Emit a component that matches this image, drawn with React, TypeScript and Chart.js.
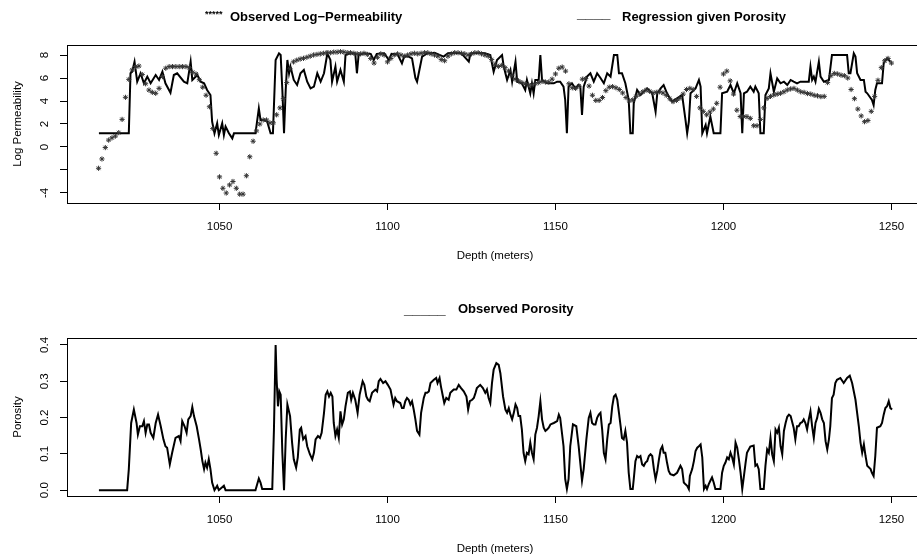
import React, { useEffect, useRef } from "react";
import { Chart, registerables } from "chart.js";
Chart.register(...registerables);

const FONT = '"Liberation Sans", Arial, Helvetica, sans-serif';
const TICK_SIZE = 11.5;
const LEGEND_SIZE = 13;

// ---------- axes ----------
const depthMin = 1004.6;
const depthMax = 1259.4;
const depthTicks = [1050, 1100, 1150, 1200, 1250];
const permTicks = [-4, -2, 0, 2, 4, 6, 8];
const permTickLabels = ["-4", "", "0", "2", "4", "6", "8"];
const porTicks = [0, 0.1, 0.2, 0.3, 0.4];
const porTickLabels = ["0.0", "0.1", "0.2", "0.3", "0.4"];

// ---------- observed log-permeability (one star per metre, 1014..1250 m) ----------
const obsStartDepth = 1014;
const obsLogPerm = [
  -1.85, -1.04, -0.05, 0.6, 0.8, 0.95,
  1.25, 2.4, 4.32, 5.88, 6.7, 6.99, 7.04, 6.3, 5.5, 4.95,
  4.75, 4.67, 5.1, 6.12, 6.85, 6.99, 6.99, 6.99, 6.99, 6.99,
  6.99, 6.9, 6.5, 6.35, 5.85, 5.2, 4.5, 3.5, 1.6, -0.55,
  -2.6, -3.59, -4.0, -3.3, -3.0, -3.59, -4.1, -4.1, -2.5, -0.85,
  0.5, 1.4, 2.0, 2.35, 2.35, 2.1, 2.1, 2.8, 3.4, 4.2,
  5.6, 6.8, 7.4, 7.55, 7.65, 7.71, 7.8, 7.9, 8.0, 8.05,
  8.1, 8.15, 8.2, 8.2, 8.25, 8.25, 8.29, 8.25, 8.2, 8.2,
  8.15, 8.1, 8.1, 8.15, 8.05, 7.7, 7.3, 7.8, 8.1, 8.0,
  7.4, 7.7, 8.0, 8.1, 8.0, 7.9, 8.0, 8.1, 8.15, 8.1,
  8.15, 8.2, 8.2, 8.1, 8.0, 7.9, 7.6, 7.5, 7.9, 8.1,
  8.2, 8.2, 8.15, 8.1, 8.0, 8.1, 8.2, 8.2, 8.1, 8.0,
  7.9, 7.6, 7.2, 7.0, 7.1, 6.9, 6.6, 6.2, 5.9, 5.75,
  5.6, 5.5, 5.4, 5.4, 5.5, 5.6, 5.7, 5.65, 5.65, 5.9,
  6.35, 6.85, 6.95, 6.6, 5.5, 5.15, 5.1, 5.3, 5.9, 5.95,
  5.3, 4.5, 4.05, 4.05, 4.3, 4.9, 5.2, 5.25, 5.15, 5.0,
  4.7, 4.3, 4.0, 4.1, 4.4, 4.6, 4.8, 4.95, 4.85, 4.7,
  4.75, 4.8, 4.7, 4.5, 4.2, 3.95, 4.05, 4.25, 4.6, 5.0,
  5.1, 5.0, 4.4, 3.4, 3.1, 2.8, 3.05, 3.3, 3.8, 5.2,
  6.35, 6.6, 5.75, 4.6, 3.2, 2.65, 2.65, 2.64, 2.49, 1.85,
  1.85, 2.4, 3.4, 4.23, 4.4, 4.52, 4.6, 4.67, 4.8, 4.96,
  5.05, 5.1, 4.95, 4.8, 4.75, 4.65, 4.6, 4.5, 4.45, 4.38,
  4.4, 5.6, 6.2, 6.4, 6.35, 6.25, 6.2, 6.0, 5.0, 4.2,
  3.3, 2.7, 2.2, 2.3, 3.1, 4.4, 5.8, 6.9, 7.5, 7.7,
  7.3,
];

// ---------- regression given porosity ----------
const regDepth = [
  1014.1, 1023.0, 1023.5, 1024.0, 1024.7, 1025.5, 1026.5, 1027.5, 1028.5, 1029.5,
  1031.0, 1032.0, 1033.0, 1033.9, 1035.4, 1036.4, 1037.4, 1039.4, 1040.4, 1041.4,
  1041.9, 1043.4, 1044.4, 1045.4, 1046.3, 1047.3, 1047.8, 1048.5, 1049.3, 1049.8,
  1050.8, 1051.3, 1051.8, 1052.8, 1053.8, 1054.3, 1060.7, 1061.7, 1062.2, 1063.2,
  1064.2, 1065.2, 1065.9, 1066.7, 1067.7, 1068.2, 1068.7, 1069.2, 1069.7, 1070.2,
  1070.7, 1071.1, 1072.1, 1073.1, 1074.1, 1075.1, 1076.1, 1077.1, 1078.1, 1079.1,
  1080.1, 1081.1, 1082.1, 1083.0, 1083.5, 1084.5, 1085.0, 1086.0, 1087.0, 1087.5,
  1089.0, 1090.4, 1090.9, 1091.4, 1093.0, 1095.0, 1095.9, 1096.8, 1099.0, 1100.4,
  1101.2, 1103.0, 1104.3, 1105.0, 1106.3, 1107.3, 1108.3, 1108.8, 1109.3, 1110.3,
  1111.8, 1114.0, 1116.7, 1118.0, 1120.0, 1122.0, 1124.2, 1124.7, 1127.0, 1129.0,
  1130.6, 1131.6, 1132.6, 1134.1, 1134.6, 1135.6, 1136.6, 1137.1, 1138.1, 1138.6,
  1140.0, 1141.0, 1141.5, 1142.5, 1143.0, 1143.5, 1144.0, 1145.0, 1145.5, 1146.0,
  1147.5, 1149.5, 1150.5, 1151.4, 1152.4, 1152.9, 1153.4, 1153.9, 1154.9, 1155.9,
  1156.9, 1157.4, 1157.9, 1158.4, 1159.4, 1160.4, 1161.4, 1162.4, 1163.4, 1164.4,
  1165.4, 1166.4, 1167.4, 1168.4, 1168.9, 1169.8, 1170.8, 1171.8, 1172.3, 1173.0,
  1173.3, 1174.3, 1175.3, 1176.3, 1177.3, 1178.8, 1179.8, 1180.3, 1181.3, 1182.2,
  1183.2, 1184.7, 1186.2, 1187.7, 1188.7, 1189.2, 1189.7, 1190.2, 1191.7, 1192.7,
  1193.2, 1193.7, 1194.7, 1195.1, 1196.1, 1197.1, 1199.1, 1199.6, 1201.1, 1202.1,
  1203.1, 1204.1, 1205.1, 1205.6, 1206.1, 1207.0, 1208.0, 1209.0, 1209.5, 1210.5,
  1211.0, 1212.0, 1212.5, 1213.5, 1214.0, 1215.0, 1216.0, 1217.0, 1218.0, 1219.0,
  1220.0, 1220.9, 1221.9, 1222.9, 1225.4, 1225.9, 1226.4, 1226.9, 1227.4, 1228.4,
  1228.9, 1229.9, 1231.4, 1232.3, 1232.8, 1236.8, 1237.3, 1237.8, 1238.8, 1239.3,
  1239.8, 1240.8, 1241.8, 1242.3, 1242.8, 1244.2, 1244.7, 1245.2, 1245.7, 1247.2,
  1247.7, 1248.7, 1249.7,
];
const regLogPerm = [
  1.19, 1.19, 6.41, 6.55, 7.42, 5.68, 6.41, 5.54, 6.12, 5.54,
  6.26, 5.83, 6.55, 5.54, 4.72, 6.26, 6.41, 5.68, 5.54, 7.42,
  5.83, 6.26, 5.68, 5.54, 4.96, 4.52, 2.2, 1.19, 2.06, 1.04,
  2.06, 1.04, 1.77, 1.19, 0.75, 1.19, 1.19, 3.36, 2.35, 2.35,
  2.2, 1.19, 1.19, 7.57, 8.14, 8.0, 4.96, 1.19, 4.96, 7.57,
  6.41, 6.99, 5.83, 5.39, 6.41, 6.7, 5.68, 5.1, 5.25, 6.41,
  5.68, 6.41, 8.14, 7.57, 5.68, 6.99, 5.68, 6.7, 5.68, 8.0,
  8.14, 8.14, 6.41, 8.0, 8.15, 8.1, 7.57, 8.1, 8.15, 7.57,
  8.1, 8.05, 7.28, 7.9, 7.86, 7.7, 6.0, 5.68, 6.41, 7.86,
  8.14, 8.2, 7.86, 8.15, 8.2, 8.15, 7.42, 8.14, 8.2, 8.15,
  8.0, 6.55, 7.57, 8.0, 6.99, 5.83, 6.7, 5.68, 7.42, 5.68,
  5.54, 4.96, 5.83, 4.67, 5.54, 4.67, 5.83, 5.83, 8.0, 5.83,
  5.54, 5.54, 5.68, 5.68, 5.25, 4.09, 1.19, 5.25, 5.54, 5.1,
  5.39, 5.25, 2.78, 5.25, 6.12, 6.41, 5.68, 6.41, 6.0, 5.54,
  6.41, 6.12, 8.0, 8.0, 6.41, 6.41, 5.54, 4.09, 1.19, 1.19,
  3.8, 4.96, 4.52, 4.81, 5.1, 4.67, 3.07, 4.67, 5.1, 5.39,
  4.67, 3.94, 4.23, 4.52, 2.35, 1.19, 2.2, 4.67, 5.1, 5.83,
  5.25, 1.19, 1.91, 1.19, 2.64, 1.19, 1.19, 4.67, 4.81, 5.39,
  4.67, 5.54, 4.67, 1.19, 4.67, 4.81, 5.25, 4.81, 5.25, 4.67,
  1.19, 1.19, 4.52, 5.1, 6.41, 4.81, 5.97, 5.54, 5.68, 5.39,
  5.83, 5.68, 5.54, 5.68, 5.68, 6.99, 5.83, 6.12, 5.68, 7.42,
  6.12, 5.68, 5.83, 8.0, 8.0, 8.0, 6.41, 6.41, 8.14, 7.86,
  6.41, 5.83, 5.83, 4.81, 4.67, 4.09, 3.65, 4.96, 5.54, 5.54,
  7.28, 7.71, 7.42,
];

// ---------- observed porosity ----------
const porDepth = [
  1014.1, 1022.5, 1023.0, 1023.7, 1024.5, 1025.3, 1025.7, 1026.3, 1027.0, 1027.5,
  1028.0, 1028.5, 1029.0, 1029.5, 1030.3, 1031.0, 1031.7, 1032.5, 1033.3, 1033.9,
  1034.4, 1035.2, 1035.9, 1036.9, 1037.9, 1038.4, 1038.9, 1039.6, 1040.2, 1040.7,
  1041.4, 1041.9, 1042.4, 1043.2, 1043.9, 1044.4, 1044.9, 1045.4, 1045.8, 1046.3,
  1046.8, 1047.3, 1047.8, 1048.5, 1049.3, 1049.8, 1051.3, 1051.8, 1060.7, 1061.7,
  1062.2, 1062.7, 1065.7, 1066.2, 1066.7, 1067.0, 1067.4, 1067.8, 1068.2, 1068.7,
  1069.2, 1069.7, 1070.2, 1071.0, 1071.6, 1072.1, 1072.8, 1073.3, 1073.9, 1074.3,
  1074.9, 1075.6, 1076.1, 1076.9, 1077.6, 1078.1, 1078.6, 1079.3, 1079.9, 1080.4,
  1081.1, 1081.6, 1082.1, 1082.6, 1083.1, 1083.6, 1084.0, 1084.5, 1085.0, 1085.5,
  1086.0, 1086.5, 1087.0, 1087.5, 1088.2, 1088.8, 1089.2, 1089.7, 1090.4, 1091.1,
  1091.7, 1092.6, 1093.1, 1093.7, 1094.2, 1094.7, 1095.4, 1096.4, 1096.9, 1097.4,
  1097.9, 1098.7, 1099.4, 1100.1, 1100.9, 1101.4, 1101.8, 1102.3, 1102.8, 1103.8,
  1104.3, 1104.8, 1105.3, 1105.8, 1106.3, 1106.8, 1107.3, 1107.8, 1108.3, 1108.8,
  1109.5, 1110.0, 1110.8, 1111.3, 1111.8, 1112.3, 1112.8, 1113.8, 1114.5, 1114.9,
  1115.5, 1115.9, 1116.5, 1116.9, 1117.5, 1118.2, 1118.7, 1119.7, 1120.5, 1121.2,
  1121.9, 1122.7, 1123.5, 1124.0, 1124.5, 1125.2, 1125.7, 1126.2, 1126.6, 1127.6,
  1128.4, 1129.1, 1129.6, 1130.1, 1130.6, 1131.1, 1131.6, 1132.4, 1133.1, 1133.6,
  1134.4, 1135.1, 1135.6, 1136.1, 1136.6, 1137.1, 1137.6, 1138.1, 1138.6, 1139.0,
  1139.5, 1140.0, 1140.5, 1141.0, 1141.5, 1142.0, 1142.5, 1143.0, 1143.5, 1144.0,
  1144.5, 1145.0, 1145.5, 1146.0, 1146.5, 1147.0, 1147.5, 1148.0, 1148.5, 1149.5,
  1150.5, 1151.0, 1151.4, 1152.4, 1152.9, 1153.4, 1153.9, 1154.4, 1155.2, 1156.2,
  1156.9, 1157.9, 1158.4, 1159.2, 1159.9, 1160.4, 1160.9, 1161.4, 1161.9, 1162.4,
  1162.9, 1163.4, 1163.9, 1164.4, 1164.9, 1165.4, 1165.9, 1166.4, 1166.9, 1167.4,
  1167.9, 1168.4, 1168.9, 1169.4, 1169.8, 1170.3, 1170.8, 1171.3, 1171.8, 1172.3,
  1173.0, 1173.3, 1173.8, 1174.3, 1174.8, 1175.3, 1175.8, 1176.3, 1176.8, 1177.3,
  1177.8, 1178.3, 1178.8, 1179.3, 1179.8, 1180.3, 1180.8, 1181.3, 1181.8, 1182.2,
  1182.7, 1183.2, 1183.7, 1184.2, 1185.2, 1186.2, 1187.2, 1187.7, 1188.2, 1188.7,
  1189.2, 1189.7, 1190.0, 1190.7, 1191.2, 1191.7, 1192.2, 1192.7, 1193.2, 1193.7,
  1194.2, 1194.7, 1195.1, 1195.6, 1196.1, 1196.6, 1197.1, 1197.6, 1199.1, 1199.6,
  1200.1, 1200.6, 1201.1, 1201.6, 1202.1, 1202.6, 1203.1, 1203.6, 1204.1, 1204.6,
  1205.1, 1205.6, 1206.1, 1206.6, 1207.0, 1208.0, 1209.0, 1209.5, 1210.0, 1210.5,
  1211.0, 1212.0, 1212.5, 1213.0, 1213.5, 1214.0, 1214.5, 1215.0, 1215.5, 1216.0,
  1216.5, 1217.0, 1217.5, 1218.0, 1218.5, 1219.0, 1219.5, 1220.0, 1220.4, 1220.9,
  1221.4, 1221.9, 1222.4, 1222.9, 1223.4, 1223.9, 1224.4, 1224.9, 1225.4, 1225.9,
  1226.4, 1226.9, 1227.4, 1227.9, 1228.4, 1228.9, 1229.4, 1229.9, 1230.4, 1230.9,
  1231.4, 1231.8, 1232.3, 1232.8, 1233.3, 1233.8, 1234.8, 1235.8, 1236.8, 1237.6,
  1238.3, 1239.3, 1240.3, 1240.8, 1241.3, 1241.8, 1242.3, 1242.8, 1243.8, 1244.2,
  1244.7, 1245.2, 1245.7, 1246.7, 1247.2, 1247.7, 1248.2, 1248.7, 1249.2, 1249.7,
  1250.2,
];
const porosity = [
  0.0, 0.0, 0.058, 0.185, 0.222, 0.185, 0.153, 0.176, 0.176, 0.19,
  0.158, 0.181, 0.181, 0.158, 0.144, 0.185, 0.208, 0.176, 0.14, 0.121,
  0.117, 0.071, 0.103, 0.144, 0.149, 0.135, 0.19, 0.176, 0.158, 0.195,
  0.204, 0.229, 0.204, 0.176, 0.14, 0.112, 0.08, 0.058, 0.076, 0.062,
  0.085, 0.058, 0.021, 0.0, 0.012, 0.0, 0.012, 0.0, 0.0, 0.032,
  0.021, 0.003, 0.003, 0.167, 0.4, 0.304, 0.231, 0.272, 0.263, 0.103,
  0.0, 0.14, 0.236, 0.204, 0.131, 0.085, 0.062, 0.09, 0.167, 0.172,
  0.14, 0.149, 0.121, 0.099, 0.085, 0.103, 0.14, 0.149, 0.144, 0.158,
  0.213, 0.263, 0.272, 0.258, 0.268, 0.258, 0.185, 0.149, 0.167, 0.144,
  0.217, 0.181, 0.195, 0.231, 0.268, 0.272, 0.249, 0.268, 0.249, 0.213,
  0.263, 0.3, 0.29, 0.258, 0.249, 0.245, 0.268, 0.277, 0.272, 0.3,
  0.306, 0.295, 0.3, 0.29, 0.277, 0.254, 0.236, 0.254, 0.245, 0.24,
  0.226, 0.226, 0.245, 0.254, 0.249, 0.236, 0.245, 0.222, 0.195, 0.163,
  0.153, 0.213, 0.254, 0.268, 0.268, 0.272, 0.295, 0.304, 0.309, 0.295,
  0.309, 0.286, 0.258, 0.24, 0.254, 0.249, 0.268, 0.277, 0.277, 0.29,
  0.281, 0.272, 0.258, 0.222, 0.245, 0.249, 0.254, 0.268, 0.281, 0.29,
  0.281, 0.268, 0.277, 0.254, 0.24, 0.295, 0.332, 0.35, 0.345, 0.322,
  0.258, 0.222, 0.213, 0.226, 0.208, 0.195, 0.213, 0.236, 0.226, 0.204,
  0.204, 0.167, 0.103, 0.08, 0.103, 0.099, 0.131, 0.103, 0.085, 0.153,
  0.172, 0.204, 0.245, 0.195, 0.172, 0.163, 0.167, 0.172, 0.181, 0.185,
  0.19, 0.208, 0.199, 0.121, 0.03, 0.003, 0.03, 0.121, 0.181, 0.176,
  0.121, 0.026, 0.058, 0.14, 0.199, 0.213, 0.185, 0.181, 0.181, 0.199,
  0.208, 0.213, 0.167, 0.103, 0.085, 0.14, 0.181, 0.185, 0.231, 0.258,
  0.263, 0.249, 0.213, 0.176, 0.144, 0.14, 0.163, 0.131, 0.048, 0.003,
  0.003, 0.03, 0.08, 0.094, 0.09, 0.094, 0.071, 0.067, 0.076, 0.08,
  0.094, 0.099, 0.094, 0.058, 0.03, 0.053, 0.085, 0.112, 0.121, 0.103,
  0.103, 0.076, 0.053, 0.044, 0.041, 0.048, 0.067, 0.058, 0.021, 0.016,
  0.012, 0.003, 0.039, 0.058, 0.08, 0.108, 0.117, 0.121, 0.126, 0.09,
  0.003, 0.012, 0.003, 0.016, 0.026, 0.035, 0.021, 0.003, 0.003, 0.048,
  0.067, 0.076, 0.09, 0.085, 0.103, 0.09, 0.071, 0.131, 0.117, 0.085,
  0.048, 0.003, 0.039, 0.076, 0.103, 0.12, 0.123, 0.067, 0.071, 0.058,
  0.003, 0.003, 0.067, 0.112, 0.103, 0.144, 0.099, 0.08, 0.167, 0.158,
  0.172, 0.121, 0.099, 0.163, 0.185, 0.202, 0.208, 0.204, 0.19, 0.172,
  0.14, 0.176, 0.176, 0.185, 0.187, 0.195, 0.185, 0.167, 0.195, 0.217,
  0.176, 0.144, 0.185, 0.199, 0.224, 0.213, 0.195, 0.185, 0.135, 0.112,
  0.14, 0.176, 0.254, 0.263, 0.295, 0.304, 0.309, 0.295, 0.309, 0.315,
  0.295, 0.249, 0.176, 0.131, 0.103, 0.126, 0.094, 0.067, 0.058, 0.048,
  0.039, 0.094, 0.172, 0.176, 0.185, 0.208, 0.226, 0.231, 0.245, 0.226,
  0.222,
];

// ---------- helpers ----------
type TextItem = { text: string; x: number; y: number; font: string };

const headerPlugin = (items: TextItem[]) => ({
  id: "headerText",
  afterDraw(chart: any) {
    const ctx = chart.ctx;
    ctx.save();
    ctx.fillStyle = "#000";
    ctx.textAlign = "left";
    ctx.textBaseline = "middle";
    items.forEach((it) => {
      ctx.font = it.font;
      ctx.fillText(it.text, it.x, it.y);
    });
    ctx.restore();
  },
});

const boxPlugin = {
  id: "plotBox",
  afterDatasetsDraw(chart: any) {
    const { ctx, chartArea } = chart;
    ctx.save();
    ctx.strokeStyle = "#000";
    ctx.lineWidth = 1;
    ctx.strokeRect(
      Math.round(chartArea.left) + 0.5,
      Math.round(chartArea.top) + 0.5,
      Math.round(chartArea.right - chartArea.left),
      Math.round(chartArea.bottom - chartArea.top)
    );
    ctx.restore();
  },
};

const yLabelPlugin = (values: number[], labels: string[], xCenter: number) => ({
  id: "rotatedYLabels",
  afterDraw(chart: any) {
    const ctx = chart.ctx;
    const ys = chart.scales.y;
    ctx.save();
    ctx.fillStyle = "#000";
    ctx.font = `${TICK_SIZE}px ${FONT}`;
    ctx.textAlign = "center";
    ctx.textBaseline = "middle";
    values.forEach((v, i) => {
      if (!labels[i]) return;
      const py = ys.getPixelForValue(v);
      ctx.save();
      ctx.translate(xCenter, py);
      ctx.rotate(-Math.PI / 2);
      ctx.fillText(labels[i], 0, 0);
      ctx.restore();
    });
    ctx.restore();
  },
});

function xScale(labelPad: number, titlePadBottom: number, axisHeight: number) {
  return {
    type: "linear",
    min: depthMin,
    max: depthMax,
    afterBuildTicks: (s: any) => {
      s.ticks = depthTicks.map((v) => ({ value: v }));
    },
    afterFit: (s: any) => {
      s.height = axisHeight;
    },
    grid: {
      drawOnChartArea: false,
      drawTicks: true,
      tickLength: 7,
      tickColor: "#000",
      color: "#000",
    },
    border: { display: true, color: "#000" },
    ticks: {
      color: "#000",
      font: { family: FONT, size: TICK_SIZE },
      padding: labelPad,
      maxRotation: 0,
      autoSkip: false,
      callback: (v: any) => String(v),
    },
    title: {
      display: true,
      text: "Depth (meters)",
      color: "#000",
      font: { family: FONT, size: TICK_SIZE },
      padding: { top: 0, bottom: titlePadBottom },
    },
  };
}

function yScale(min: number, max: number, ticks: number[], title: string) {
  return {
    type: "linear",
    min,
    max,
    afterBuildTicks: (s: any) => {
      s.ticks = ticks.map((v) => ({ value: v }));
    },
    afterFit: (s: any) => {
      s.width = 67;
    },
    grid: {
      drawOnChartArea: false,
      drawTicks: true,
      tickLength: 7,
      tickColor: "#000",
      color: "#000",
    },
    border: { display: true, color: "#000" },
    ticks: { display: false },
    title: {
      display: true,
      text: title,
      color: "#000",
      font: { family: FONT, size: TICK_SIZE },
      padding: { top: 11, bottom: 0 },
    },
  };
}

export default function App() {
  const topRef = useRef<HTMLCanvasElement | null>(null);
  const botRef = useRef<HTMLCanvasElement | null>(null);

  useEffect(() => {
    const obsPoints = obsLogPerm.map((v, i) => ({ x: obsStartDepth + i, y: v }));
    const regPoints = regDepth.map((d, i) => ({ x: d, y: regLogPerm[i] }));
    const porPoints = porDepth.map((d, i) => ({ x: d, y: porosity[i] }));

    const top = new Chart(topRef.current as HTMLCanvasElement, {
      type: "scatter",
      data: {
        datasets: [
          {
            label: "Observed Log-Permeability",
            data: obsPoints,
            showLine: false,
            pointStyle: "star",
            pointRadius: 2.6,
            pointBorderWidth: 1,
            pointBorderColor: "#333",
            pointBackgroundColor: "#333",
          },
          {
            label: "Regression given Porosity",
            data: regPoints,
            showLine: true,
            borderColor: "#000",
            borderWidth: 2,
            pointRadius: 0,
            tension: 0,
          },
        ],
      } as any,
      options: {
        responsive: false,
        animation: false,
        devicePixelRatio: 1,
        layout: { padding: { top: 45, right: 17, left: 0, bottom: 0 } },
        plugins: { legend: { display: false }, tooltip: { enabled: false } },
        scales: {
          x: xScale(9.5, 15, 75),
          y: yScale(-4.87, 8.87, permTicks, "Log Permeability"),
        } as any,
      },
      plugins: [
        boxPlugin,
        yLabelPlugin(permTicks, permTickLabels, 45),
        headerPlugin([
          { text: "*****", x: 205, y: 15, font: `bold 9px ${FONT}` },
          { text: "Observed Log\u2212Permeability", x: 230, y: 17, font: `bold ${LEGEND_SIZE}px ${FONT}` },
          { text: "____", x: 577, y: 14, font: `bold 15px ${FONT}` },
          { text: "Regression given Porosity", x: 622, y: 17, font: `bold ${LEGEND_SIZE}px ${FONT}` },
        ]),
      ],
    } as any);

    const bot = new Chart(botRef.current as HTMLCanvasElement, {
      type: "scatter",
      data: {
        datasets: [
          {
            label: "Observed Porosity",
            data: porPoints,
            showLine: true,
            borderColor: "#000",
            borderWidth: 2,
            pointRadius: 0,
            tension: 0,
          },
        ],
      } as any,
      options: {
        responsive: false,
        animation: false,
        devicePixelRatio: 1,
        layout: { padding: { top: 60, right: 17, left: 0, bottom: 0 } },
        plugins: { legend: { display: false }, tooltip: { enabled: false } },
        scales: {
          x: xScale(9.5, 0, 60),
          y: yScale(-0.0161, 0.4191, porTicks, "Porosity"),
        } as any,
      },
      plugins: [
        boxPlugin,
        yLabelPlugin(porTicks, porTickLabels, 45),
        headerPlugin([
          { text: "_____", x: 404, y: 32, font: `bold 15px ${FONT}` },
          { text: "Observed Porosity", x: 458, y: 31, font: `bold ${LEGEND_SIZE}px ${FONT}` },
        ]),
      ],
    } as any);

    return () => {
      top.destroy();
      bot.destroy();
    };
  }, []);

  return (
    <div
      style={{
        position: "fixed",
        left: 0,
        top: 0,
        width: 917,
        height: 556,
        overflow: "hidden",
        background: "#fff",
      }}
    >
      <canvas
        ref={topRef}
        width={940}
        height={278}
        style={{ position: "absolute", left: 0, top: 0, width: 940, height: 278 }}
      />
      <canvas
        ref={botRef}
        width={940}
        height={278}
        style={{ position: "absolute", left: 0, top: 278, width: 940, height: 278 }}
      />
    </div>
  );
}
